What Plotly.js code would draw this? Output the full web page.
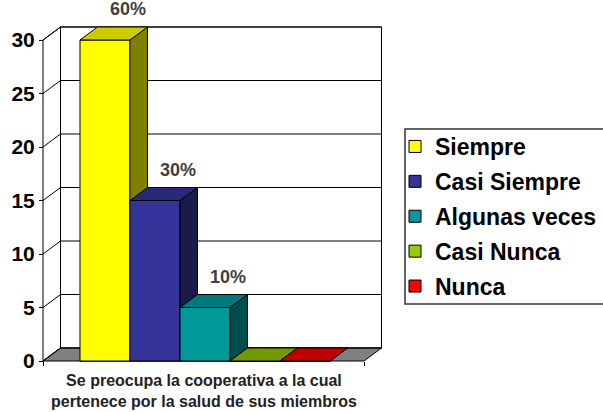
<!DOCTYPE html>
<html>
<head>
<meta charset="utf-8">
<script src="https://cdn.plot.ly/plotly-3.0.1.min.js"></script>
<style>html,body{margin:0;padding:0;background:#fff;overflow:hidden;}#chart{width:620px;height:412px;}</style>
</head>
<body>
<div id="chart"></div>
<script>
// ---- data ----
const categories = ["Siempre", "Casi Siempre", "Algunas veces", "Casi Nunca", "Nunca"];
const values = [30, 15, 5, 0, 0];
const yTicks = [0, 5, 10, 15, 20, 25, 30];
const xLabel = "Se preocupa la cooperativa a la cual<br>pertenece por la salud de sus miembros";

// ---- styles ----
const frontColors = ["#FFFF00", "#333399", "#009999", "#99CC00", "#FF0000"];
const topColors   = ["#CCCC00", "#29297A", "#007A7A", "#739900", "#C00000"];
const sideColors  = ["#808000", "#1A1A4D", "#004D4D", "#4D6600", "#800000"];
const FONT = "Liberation Sans, Arial, sans-serif";

// frame geometry (axis units): bar i centred at i, width 1
const X0 = -1.24, X1 = 5.18;       // front plane extent
const DX = 0.35, DY = 1.215;       // depth offset
const YTOP = yTicks[yTicks.length - 1];
const total = values.reduce((a, b) => a + b, 0);

// figure is slightly wider than the 603px window so the legend is cut at the right edge
const W = 620, H = 412;
const mL = 40, mT = 24, mB = 48;
const plotW = 346, mR = W - mL - plotW;
const plotH = H - mT - mB;

const traces = [];

// legend / data bars (covered by the 3D faces drawn on top)
categories.forEach((c, i) => {
  traces.push({
    type: "bar", x: [i], y: [values[i]], width: [1], name: c,
    legendgroup: "g" + i,
    marker: {color: frontColors[i], line: {color: "#000", width: 1}},
    hoverinfo: "skip"
  });
});

function poly(xs, ys, fill, lw) {
  return {
    type: "scatter", mode: "lines", x: xs.concat([xs[0]]), y: ys.concat([ys[0]]),
    fill: "toself", fillcolor: fill, line: {color: "#000", width: lw || 1},
    showlegend: false, hoverinfo: "skip"
  };
}

// back wall, left wall, floor
traces.push(poly([X0 + DX, X1 + DX, X1 + DX, X0 + DX], [DY, DY, YTOP + DY, YTOP + DY], "#FFFFFF"));
traces.push(poly([X0, X0, X0 + DX, X0 + DX], [0, YTOP, YTOP + DY, DY], "#FFFFFF"));
traces.push(poly([X0, X1, X1 + DX, X0 + DX], [0, 0, DY, DY], "#808080"));

// gridlines (left-wall diagonals + back-wall horizontals)
const gx = [], gy = [];
yTicks.forEach(v => {
  gx.push(X0, X0 + DX, X1 + DX, null);
  gy.push(v, v + DY, v + DY, null);
});
traces.push({type: "scatter", mode: "lines", x: gx, y: gy, line: {color: "#000", width: 1},
  showlegend: false, hoverinfo: "skip"});

// 3D bars: front, side, top for each, left to right
values.forEach((v, i) => {
  const l = i - 0.5, r = i + 0.5;
  traces.push(poly([l, r, r, l], [0, 0, v, v], frontColors[i]));
  traces.push(poly([r, r + DX, r + DX, r], [0, DY, v + DY, v], sideColors[i]));
  traces.push(poly([l, r, r + DX, l + DX], [v, v, v + DY, v + DY], topColors[i]));
});

// data labels
const annotations = [];
values.forEach((v, i) => {
  if (v > 0) {
    annotations.push({
      x: i + DX / 2, y: v + DY, xref: "x", yref: "y", showarrow: false,
      text: Math.round(v / total * 100) + "%", xshift: 14, yshift: 18, yanchor: "middle",
      font: {family: FONT, size: 18, weight: "bold", color: "#404040"}
    });
  }
});
annotations.push({
  x: (X0 + X1) / 2, xref: "x", y: ((H - mB) - 370) / plotH, yref: "paper",
  yanchor: "top", showarrow: false, text: xLabel, align: "center",
  font: {family: FONT, size: 16, weight: "bold", color: "#222"}
});

const layout = {
  width: W, height: H,
  margin: {l: mL, r: mR, t: mT, b: mB},
  paper_bgcolor: "#fff", plot_bgcolor: "rgba(0,0,0,0)",
  barmode: "overlay",
  showlegend: true,
  xaxis: {
    range: [X0 - 3 / 50, X0 - 3 / 50 + plotW / 50],
    showgrid: false, zeroline: false, showline: false, showticklabels: false,
    ticks: "outside", ticklen: 4, tickcolor: "#000", tickvals: [X0, X1],
    anchor: "free", position: 3 / plotH, fixedrange: true
  },
  yaxis: {
    range: [-0.28, -0.28 + plotH / 10.7],
    showgrid: false, zeroline: false, showline: false,
    ticks: "outside", ticklen: 4, tickcolor: "#000", tickvals: yTicks,
    ticktext: yTicks.map(String),
    tickfont: {family: FONT, size: 21, weight: "bold", color: "#000"},
    anchor: "free", position: 3 / plotW, fixedrange: true
  },
  legend: {
    x: (395 - mL) / plotW, xanchor: "left",
    y: ((H - mB) - 125) / plotH, yanchor: "top",
    bgcolor: "rgba(0,0,0,0)", borderwidth: 0,
    font: {family: FONT, size: 23, weight: "bold", color: "#000"},
    tracegroupgap: 2, traceorder: "grouped"
  },
  shapes: [{
    type: "rect", xref: "paper", yref: "paper",
    x0: (405 - mL) / plotW, x1: 1.8,
    y0: ((H - mB) - 304) / plotH, y1: ((H - mB) - 129) / plotH,
    line: {color: "#333", width: 1.5}, fillcolor: "rgba(0,0,0,0)"
  }],
  annotations: annotations
};

Plotly.newPlot("chart", traces, layout, {staticPlot: true, displayModeBar: false});
</script>
</body>
</html>
